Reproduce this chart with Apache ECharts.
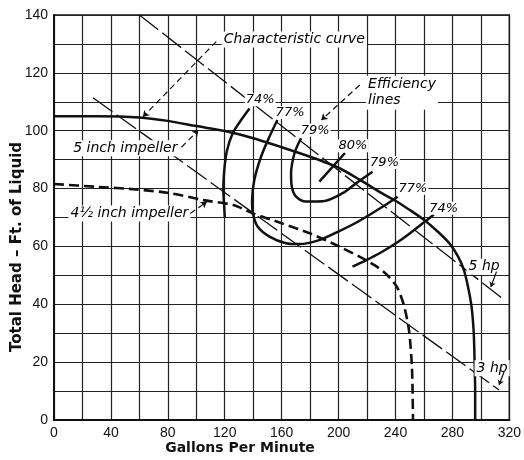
<!DOCTYPE html>
<html><head><meta charset="utf-8">
<script src="https://cdn.jsdelivr.net/npm/echarts@6/dist/echarts.min.js"></script>
<style>html,body{margin:0;padding:0;background:#fff}#c{width:524px;height:460px}</style>
</head><body><div id="c"></div>
<script>
// ---- data (Gallons per minute, Total head ft) ----
const xTickLabels = [0, 40, 80, 120, 160, 200, 240, 280, 320];
const yTickLabels = [0, 20, 40, 60, 80, 100, 120, 140];

const impeller5 = [[0,105],[30,105],[60,104.6],[80,103.4],[100,101.6],[120,99.9],[140,97.4],[160,94.3],[180,91],[200,87.2],[215,83],[230,78.5],[240,75.8],[250,72.6],[260,69.2],[270,65],[278,61],[284,56.5],[288,52],[291,46],[293.5,39],[295,30],[295.6,20],[296,10],[296,0]];
const impeller45 = [[0,81.6],[30,80.6],[58,79.7],[82,78.4],[105,76],[126,74.3],[140,71.4],[160,68],[180,64.5],[196,61],[215,56.4],[225,53.6],[233,50.7],[241,46],[246,39.5],[249.5,31],[251.6,18],[252.3,0]];
const hp5Line = [[60,140],[316.5,41.5]];
const hp3Line = [[27.4,111.4],[312.8,10.4]];

const eff74Left = [[137.4,107.7],[131.5,103.7],[125.6,99.1],[121.5,93],[119.6,86],[119,79.5],[119.6,74],[120,70]];
const eff77 = [[157,103.7],[151.4,97.9],[145.5,91],[140.8,83],[139.2,76],[139.8,71.4],[143.2,66.8],[151.4,63.4],[163,61.1],[172.4,60.8],[186.4,62.2],[200.5,65.3],[214.5,68.8],[230.9,73.7],[241.5,77.2]];
const eff79 = [[173.6,97.4],[169,92.2],[166.6,85],[167.2,80.5],[170,77.3],[177.1,75.5],[188.8,75.6],[202.8,78.4],[212.2,81.8],[223.9,85.8]];
const eff80 = [[186.5,82.4],[204.5,92.3]];
const eff74Right = [[209.8,53],[219.2,55.2],[230,58],[240.3,61.1],[250,64.5],[260.5,68.5],[267,71]];

const pctTexts = ['74%','77%','79%','80%','79%','77%','74%'];
const pctPos = [[144.9,110.7],[165.9,106.3],[183.5,100.2],[210.1,94.8],[232.3,89.0],[252.2,80.1],[273.8,73.2]];

const noteTexts = ['Characteristic curve', '5 inch impeller', '4½ inch impeller', '5 hp', '3 hp'];
const notePos = [[168.9,131.5],[50.1,93.9],[53,71.4],[302.3,53],[307.9,17.9]];
const effNoteText = 'Efficiency\nlines';
const effNotePos = [219.3,113.1];

const dashedLeaders = [[[114,130.8],[62.5,104.8]],[[214.9,115.8],[187.9,103.7]],[[89.6,94.3],[101.5,100.2]],[[95.7,71.4],[107.4,75.4]]];
const solidLeaders = [[[311,51.3],[307,46]],[[316.3,16.7],[312.8,12.1]]];

const xName = 'Gallons Per Minute';
const yName = 'Total Head – Ft. of Liquid';

// ---- chart ----
const chart = echarts.init(document.getElementById('c'), null, {renderer:'canvas'});
const INK = '#111';
const thick = (data, extra) => Object.assign({
  type:'line', data, showSymbol:false, smooth:0.3, z:3, silent:true, animation:false,
  lineStyle:{color:INK, width:2.5}
}, extra || {});
const italic = {color:'#000', opacity:1, fontFamily:'DejaVu Sans', fontStyle:'italic', fontSize:14, backgroundColor:'#fff', padding:[1,2]};

chart.setOption({
  animation:false,
  grid:{left:54, right:14, top:15, bottom:40, show:true, borderColor:INK, borderWidth:1.5},
  xAxis:{type:'value', min:0, max:320, interval:20,
    axisLine:{show:true, onZero:false, lineStyle:{color:INK, width:2}},
    axisTick:{show:false},
    splitLine:{show:true, lineStyle:{color:'#222', width:1.2}},
    axisLabel:{formatter:v => xTickLabels.includes(v) ? String(v) : '', color:INK, fontSize:14, fontFamily:'Liberation Sans', margin:6}
  },
  yAxis:{type:'value', min:0, max:140, interval:10,
    axisLine:{show:true, onZero:false, lineStyle:{color:INK, width:2}},
    axisTick:{show:false},
    splitLine:{show:true, lineStyle:{color:'#222', width:1.2}},
    axisLabel:{formatter:v => yTickLabels.includes(v) ? String(v) : '', color:INK, fontSize:14, fontFamily:'Liberation Sans', margin:6}
  },
  graphic:[
    {type:'text', x:240, y:448, style:{text:xName, fill:INK, font:'bold 14px "DejaVu Sans"', textAlign:'center', textVerticalAlign:'middle'}},
    {type:'text', x:17, y:247, rotation:Math.PI/2, style:{text:yName, fill:INK, font:'bold 15px "DejaVu Sans"', textAlign:'center', textVerticalAlign:'middle'}}
  ],
  series:[
    {type:'line', data:hp5Line, showSymbol:false, z:2, silent:true, lineStyle:{color:INK, width:1.3, type:[24,5]}},
    {type:'line', data:hp3Line, showSymbol:false, z:2, silent:true, lineStyle:{color:INK, width:1.3, type:[24,5]}},
    thick(impeller5, {smooth:0.25}),
    thick(impeller45, {smooth:0.25, lineStyle:{color:INK, width:2.6, type:[10,5]}}),
    thick(eff74Left),
    thick(eff77),
    thick(eff79),
    thick(eff80, {smooth:false}),
    thick(eff74Right),
    {type:'scatter', z:5, silent:true, symbolSize:0, itemStyle:{opacity:1},
      data: pctTexts.map((t,i) => ({name:t, value:pctPos[i]})),
      label:Object.assign({}, italic, {show:true, position:'inside', fontSize:13, padding:[0,1], formatter:p => p.name})},
    {type:'scatter', z:5, silent:true, symbolSize:0, itemStyle:{opacity:1},
      data: noteTexts.map((t,i) => ({name:t, value:notePos[i]})).concat([{name:effNoteText, value:effNotePos, label:{align:'left', lineHeight:16}}]),
      label:Object.assign({}, italic, {show:true, position:'inside', formatter:p => p.name})},
    {type:'lines', coordinateSystem:'cartesian2d', z:6, silent:true,
      symbol:['none','arrow'], symbolSize:6,
      data: dashedLeaders.map(c => ({coords:c})),
      lineStyle:{color:INK, width:1.2, type:[6,4], opacity:1}},
    {type:'lines', coordinateSystem:'cartesian2d', z:6, silent:true,
      symbol:['none','arrow'], symbolSize:5,
      data: solidLeaders.map(c => ({coords:c})),
      lineStyle:{color:INK, width:1.2, opacity:1}}
  ]
});
</script></body></html>
